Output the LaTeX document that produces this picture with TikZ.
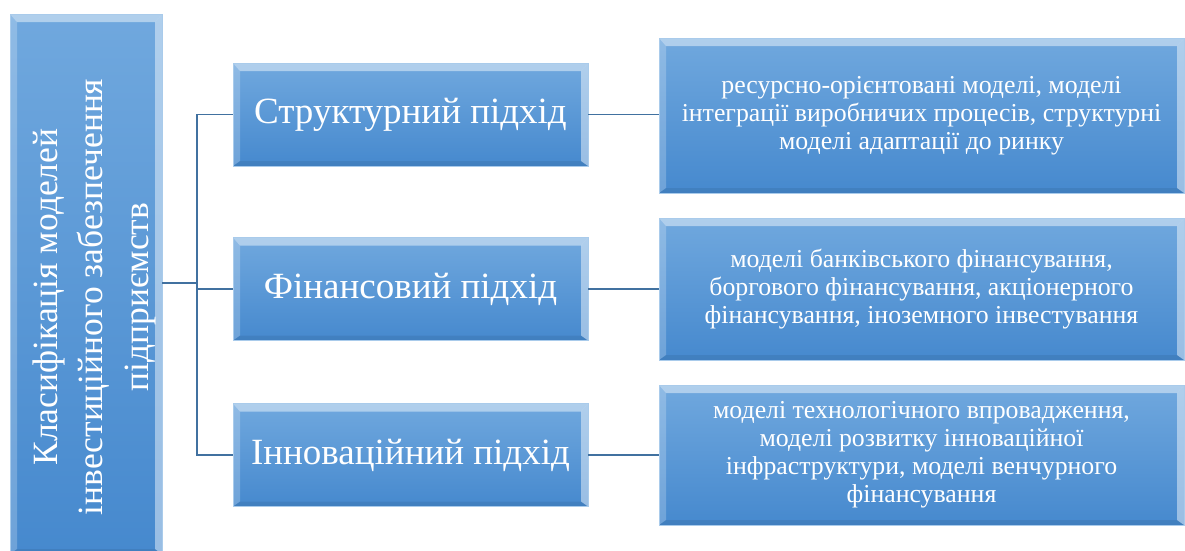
\documentclass[tikz,border=0pt]{standalone}
\usepackage{fontspec}
\setmainfont{Liberation Serif}
\newfontfamily\tnr{Liberation Serif}
\definecolor{boxtop}{RGB}{112,168,222}
\definecolor{boxbot}{RGB}{70,137,206}
\definecolor{connc}{RGB}{65,113,160}
\begin{document}
\begin{tikzpicture}[x=1pt,y=-1pt,
  bev/.style={draw=boxtop!60!white, line width=0.8pt, top color=boxtop, bottom color=boxbot,
    path picture={
      \fill[white,opacity=0.45] (path picture bounding box.north west) -- (path picture bounding box.north east)
        -- ([xshift=-7pt,yshift=-8pt]path picture bounding box.north east) -- ([xshift=7pt,yshift=-8pt]path picture bounding box.north west) -- cycle;
      \fill[white,opacity=0.22] (path picture bounding box.north west) -- ([xshift=7pt,yshift=-8pt]path picture bounding box.north west)
        -- ([xshift=7pt,yshift=5pt]path picture bounding box.south west) -- (path picture bounding box.south west) -- cycle;
      \fill[white,opacity=0.45] (path picture bounding box.north east) -- ([xshift=-7pt,yshift=-8pt]path picture bounding box.north east)
        -- ([xshift=-7pt,yshift=5pt]path picture bounding box.south east) -- (path picture bounding box.south east) -- cycle;
      \fill[black,opacity=0.07] (path picture bounding box.south west) -- ([xshift=7pt,yshift=5pt]path picture bounding box.south west)
        -- ([xshift=-7pt,yshift=5pt]path picture bounding box.south east) -- (path picture bounding box.south east) -- cycle;
    }},
  midbox/.style={bev, minimum width=355pt, minimum height=103pt, inner sep=0pt},
  rightbox/.style={bev, minimum width=525pt, inner sep=0pt},
  lbl/.style={text=white, align=center},
  conn/.style={draw=connc, line width=1.8pt}
]
\useasboundingbox (0,0) rectangle (1185,550);
% root box
\node[bev, minimum width=152pt, minimum height=540pt, inner sep=0pt] (root) at (86,284) {};
\node[lbl, rotate=90, font=\tnr\fontsize{35.5}{45.5}\selectfont] (roottext) at (94,297)
  {Класифікація моделей\\інвестиційного забезпечення\\підприємств};
% middle boxes
\node[midbox] (m1) at (410.5,114.5) {};
\node[midbox] (m2) at (410.5,289) {};
\node[midbox] (m3) at (410.5,455) {};
\node[lbl, font=\tnr\fontsize{37}{40}\selectfont] (t1) at (m1.center) {Структурний підхід};
\node[lbl, font=\tnr\fontsize{37}{40}\selectfont] (t2) at (m2.center) {Фінансовий підхід};
\node[lbl, font=\tnr\fontsize{37}{40}\selectfont] (t3) at (m3.center) {Інноваційний підхід};
% right boxes
\node[rightbox, minimum height=155pt] (r1) at (921.5,115.5) {};
\node[rightbox, minimum height=142pt] (r2) at (921.5,289) {};
\node[rightbox, minimum height=140pt] (r3) at (921.5,455) {};
\node[lbl, font=\tnr\fontsize{25.8}{28}\selectfont] (u1) at (r1.center)
  {ресурсно-орієнтовані моделі, моделі\\інтеграції виробничих процесів, структурні\\моделі адаптації до ринку};
\node[lbl, font=\tnr\fontsize{25.8}{28}\selectfont] (u2) at (r2.center)
  {моделі банківського фінансування,\\боргового фінансування, акціонерного\\фінансування, іноземного інвестування};
\node[lbl, font=\tnr\fontsize{25.8}{28}\selectfont] (u3) at (r3.center)
  {моделі технологічного впровадження,\\моделі розвитку інноваційної\\інфраструктури, моделі венчурного\\фінансування};
% connectors
\coordinate (jn) at (197,283);
\draw[conn] (root.east |- jn) -- (jn);
\draw[conn] (m1.west) -| (jn) |- (m3.west);
\draw[conn] (jn) |- (m2.west);
\draw[conn] (m1.east) -- (m1.east -| r1.west);
\draw[conn] (m2.east) -- (m2.east -| r2.west);
\draw[conn] (m3.east) -- (m3.east -| r3.west);
\end{tikzpicture}
\end{document}
